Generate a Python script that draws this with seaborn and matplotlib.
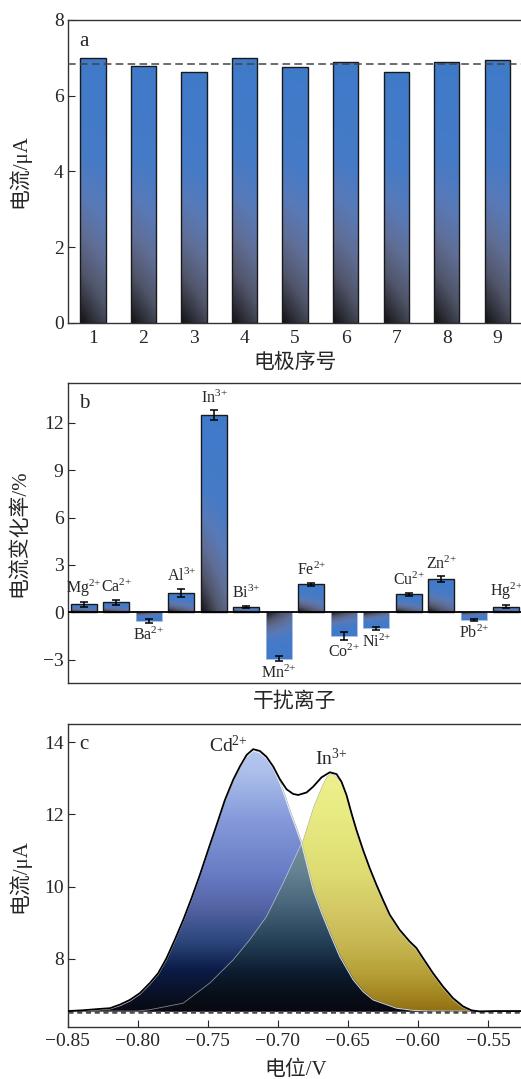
import numpy as np
import matplotlib
matplotlib.use("Agg")
import matplotlib.pyplot as plt
import seaborn as sns
from matplotlib.colors import LinearSegmentedColormap

# ---------------- data ----------------
electrodes = ["1", "2", "3", "4", "5", "6", "7", "8", "9"]
electrode_current = [7.00, 6.78, 6.63, 7.00, 6.75, 6.90, 6.63, 6.90, 6.95]
electrode_mean = 6.85

ions = ["Mg", "Ca", "Ba", "Al", "In", "Bi", "Mn", "Fe", "Co", "Ni", "Cu", "Zn", "Pb", "Hg"]
ion_charge = ["2", "2", "2", "3", "3", "3", "2", "2", "2", "2", "2", "2", "2", "2"]
change_rate = [0.50, 0.63, -0.55, 1.24, 12.50, 0.32, -2.95, 1.77, -1.49, -1.01, 1.14, 2.10, -0.48, 0.36]
change_err = [0.15, 0.15, 0.10, 0.25, 0.30, 0.08, 0.15, 0.10, 0.25, 0.10, 0.10, 0.18, 0.07, 0.08]

total_x = [-0.850, -0.840, -0.8270, -0.8198, -0.8127, -0.8056, -0.7984, -0.7913, -0.7854,
           -0.7794, -0.7735, -0.7675, -0.7616, -0.7556, -0.7497, -0.7437, -0.7378, -0.7319,
           -0.7271, -0.7223, -0.7176, -0.7128, -0.7081, -0.7033, -0.6986, -0.6938, -0.6891,
           -0.6855, -0.6795, -0.6748, -0.6688, -0.6629, -0.6581, -0.6546, -0.6510, -0.6474,
           -0.6439, -0.6392, -0.6344, -0.6296, -0.6249, -0.6201, -0.6130, -0.6059, -0.6011,
           -0.5964, -0.5892, -0.5821, -0.5750, -0.5678, -0.5618, -0.5559, -0.5450, -0.5250]
total_y = [6.55, 6.57, 6.61, 6.63, 6.73, 6.86, 7.05, 7.33, 7.60,
           8.02, 8.53, 9.08, 9.68, 10.33, 11.02, 11.71, 12.40, 12.96,
           13.33, 13.65, 13.81, 13.76, 13.60, 13.33, 12.98, 12.70, 12.57,
           12.54, 12.61, 12.77, 13.03, 13.17, 13.12, 12.91, 12.54, 12.03,
           11.57, 11.02, 10.51, 10.05, 9.63, 9.22, 8.80, 8.48, 8.30,
           8.02, 7.60, 7.23, 6.91, 6.68, 6.57, 6.54, 6.55, 6.55]

cd_x = [-0.850, -0.840, -0.8270, -0.8198, -0.8127, -0.8056, -0.7984, -0.7913, -0.7854,
        -0.7794, -0.7735, -0.7675, -0.7616, -0.7556, -0.7497, -0.7437, -0.7378, -0.7319,
        -0.7271, -0.7223, -0.7176, -0.7128, -0.7081, -0.7033, -0.6986, -0.6950, -0.6914,
        -0.6870, -0.6831, -0.6748, -0.6688, -0.6629, -0.6558, -0.6463, -0.6392, -0.6320,
        -0.6153, -0.6035, -0.5916, -0.5250]
cd_y = [6.55, 6.56, 6.59, 6.61, 6.70, 6.83, 7.02, 7.30, 7.57,
        7.99, 8.50, 9.05, 9.65, 10.30, 10.99, 11.68, 12.37, 12.92,
        13.29, 13.60, 13.76, 13.71, 13.55, 13.28, 12.88, 12.50, 12.08,
        11.62, 11.20, 9.91, 9.27, 8.71, 8.06, 7.42, 7.09, 6.86,
        6.63, 6.57, 6.55, 6.55]

in_x = [-0.850, -0.800, -0.7910, -0.7675, -0.7485, -0.7319, -0.7200, -0.7081, -0.6962,
        -0.6831, -0.6748, -0.6680, -0.6655, -0.6629, -0.6600, -0.6560, -0.6546, -0.6510,
        -0.6474, -0.6439, -0.6392, -0.6344, -0.6296, -0.6249, -0.6201, -0.6130, -0.6059,
        -0.6011, -0.5964, -0.5892, -0.5821, -0.5750, -0.5678, -0.5618, -0.5559, -0.5250]
in_y = [6.55, 6.55, 6.59, 6.77, 7.33, 7.97, 8.53, 9.17, 10.10,
        11.20, 12.22, 12.85, 13.04, 13.12, 13.08, 12.92, 12.86, 12.49,
        11.98, 11.52, 10.97, 10.46, 10.00, 9.58, 9.17, 8.75, 8.43,
        8.25, 7.97, 7.55, 7.18, 6.86, 6.64, 6.56, 6.54, 6.55]
baseline_current = 6.52

# ---------------- style ----------------
sns.set_style("ticks")
plt.rcParams["font.family"] = ["Liberation Serif", "Noto Sans CJK SC"]
plt.rcParams["mathtext.fontset"] = "custom"
plt.rcParams["mathtext.rm"] = "Liberation Serif"
plt.rcParams["mathtext.it"] = "Liberation Serif:italic"
plt.rcParams["mathtext.default"] = "rm"
plt.rcParams["axes.linewidth"] = 1.0
plt.rcParams["axes.edgecolor"] = "#333333"

W, H = 521, 1079
fig = plt.figure(figsize=(W / 100, H / 100), dpi=100)

def axes_px(left, top, right, bottom):
    return fig.add_axes([left / W, 1 - bottom / H, (right - left) / W, (bottom - top) / H])

ax_a = axes_px(67.7, 20.0, 522.5, 322.7)
ax_b = axes_px(67.7, 383.3, 522.5, 683.3)
ax_c = axes_px(67.7, 724.3, 523.0, 1027.3)

bar_cmap = LinearSegmentedColormap.from_list(
    "barg",
    [(0.0, (18/255, 18/255, 22/255)), (0.08, (45/255, 46/255, 55/255)),
     (0.2, (80/255, 85/255, 105/255)), (0.35, (96/255, 110/255, 150/255)),
     (0.5, (88/255, 122/255, 185/255)), (0.65, (70/255, 122/255, 198/255)),
     (1.0, (63/255, 123/255, 202/255))])

def gradient_fill(ax, patch, hfac=0.25):
    x0, y0 = patch.get_xy()
    w, h = patch.get_width(), patch.get_height()
    xa, xb = x0, x0 + w
    ya, yb = min(y0, y0 + h), max(y0, y0 + h)
    nx, ny = 40, 200
    u = np.linspace(0, 1, nx)[None, :]
    v = np.linspace(0, 1, ny)[:, None]
    if h < 0:
        v = v[::-1]  # zero line at top for negative bars
    t = np.clip(v + hfac * u * (1 - v), 0, 1)
    im = ax.imshow(t, cmap=bar_cmap, vmin=0, vmax=1, extent=[xa, xb, ya, yb],
                   origin="lower", aspect="auto", interpolation="bilinear",
                   zorder=patch.get_zorder() - 0.01)
    im.set_clip_path(patch)
    patch.set_facecolor("none")

def ion_label(name, charge):
    return name + "$^{" + charge + "{+}}$"

tick_fs = 14
lab_fs = 15

# ---------------- panel a ----------------
sns.barplot(x=electrodes, y=electrode_current, ax=ax_a, width=0.5, color="#407CC8",
            edgecolor="#1a1a1a", linewidth=1.0, errorbar=None)
for p in list(ax_a.patches):
    gradient_fill(ax_a, p, hfac=0.15)
ax_a.axhline(electrode_mean, color="#444444", lw=1.1, dashes=(5, 2.8), zorder=5)
ax_a.set_xlim(-0.5, 8.5)
ax_a.set_ylim(0, 8)
ax_a.set_yticks([0, 2, 4, 6, 8])
ax_a.tick_params(axis="both", direction="in", labelsize=tick_fs, top=False, right=False)
ax_a.tick_params(axis="x", length=4.5, pad=5)
ax_a.tick_params(axis="y", length=5, pad=3)
ax_a.set_xlabel("电极序号", fontsize=lab_fs)
ax_a.set_ylabel("电流/μA", fontsize=lab_fs)
ax_a.xaxis.set_label_coords(0.5, -0.1)
ax_a.yaxis.set_label_coords(-0.083, 0.5)
ax_a.text(0.025, 0.96, "a", transform=ax_a.transAxes, fontsize=15, va="top", ha="left")

# ---------------- panel b ----------------
sns.barplot(x=ions, y=change_rate, ax=ax_b, width=0.8, color="#407CC8",
            edgecolor="#1a1a1a", linewidth=1.0, errorbar=None)
for p, val in zip(list(ax_b.patches), change_rate):
    if val < 0:
        p.set_edgecolor("#9DB8E0")
        p.set_linewidth(0.6)
    gradient_fill(ax_b, p, hfac=0.3)
ax_b.errorbar(x=np.arange(len(ions)), y=change_rate, yerr=change_err, fmt="none",
              ecolor="black", elinewidth=1.1, capsize=3, capthick=1.1, zorder=6)
ax_b.axhline(0, color="black", lw=1.3, zorder=4)
for i, (ion, ch, val, err) in enumerate(zip(ions, ion_charge, change_rate, change_err)):
    label = ion_label(ion, ch)
    if val >= 0:
        ax_b.text(i, val + err + 0.22, label, ha="center", va="bottom", fontsize=11.5)
    else:
        ax_b.text(i, val - err - 0.25, label, ha="center", va="top", fontsize=11.5)
ax_b.set_xlim(-0.5, 13.5)
ax_b.set_ylim(-4.5, 14.5)
ax_b.set_yticks([-3, 0, 3, 6, 9, 12])
ax_b.set_xticks([])
ax_b.tick_params(axis="y", direction="in", labelsize=tick_fs, length=5, pad=3, right=False)
ax_b.set_xlabel("干扰离子", fontsize=lab_fs)
ax_b.set_ylabel("电流变化率/%", fontsize=lab_fs)
ax_b.xaxis.set_label_coords(0.5, -0.03)
ax_b.yaxis.set_label_coords(-0.083, 0.5)
ax_b.text(0.025, 0.965, "b", transform=ax_b.transAxes, fontsize=15, va="top", ha="left")

# ---------------- panel c ----------------
xl = (-0.85, -0.525)
yl = (6.1, 14.5)
xg = np.linspace(xl[0], xl[1], 1600)
yg = np.linspace(yl[0], yl[1], 1400)
cd_top = np.interp(xg, cd_x, cd_y)[None, :]
in_top = np.interp(xg, in_x, in_y)[None, :]
Y = yg[:, None]
in_cd = (Y <= cd_top) & (Y >= baseline_current)
in_in = (Y <= in_top) & (Y >= baseline_current)

def row_colors(stops):
    sy = np.array([s[0] for s in stops])
    sc = np.array([s[1] for s in stops]) / 255.0
    return np.stack([np.interp(yg, sy, sc[:, k]) for k in range(3)], axis=1)[:, None, :]

blue_c = row_colors([(6.55, (8, 10, 18)), (7.2, (10, 20, 48)), (7.7, (12, 28, 72)),
                     (8.5, (45, 72, 125)), (9.45, (85, 100, 165)), (10.4, (105, 125, 198)),
                     (11.8, (132, 152, 217)), (13.2, (172, 192, 236)), (14.0, (182, 202, 242))])
yel_c = row_colors([(6.55, (145, 112, 18)), (6.9, (160, 130, 30)), (7.6, (182, 160, 55)),
                    (8.5, (200, 185, 85)), (9.45, (212, 202, 102)), (10.4, (222, 220, 115)),
                    (12.0, (232, 235, 130)), (13.2, (238, 240, 142))])
ovl_c = row_colors([(6.55, (8, 10, 18)), (6.9, (8, 13, 22)), (7.6, (12, 28, 48)),
                    (8.5, (38, 65, 88)), (9.45, (72, 100, 122)), (10.4, (100, 130, 145)),
                    (11.3, (118, 145, 152)), (12.5, (130, 155, 160))])

img = np.zeros((len(yg), len(xg), 4))
only_cd = in_cd & ~in_in
only_in = in_in & ~in_cd
both = in_cd & in_in
rgb = np.zeros((len(yg), len(xg), 3))
rgb = np.where(only_cd[..., None], blue_c, rgb)
rgb = np.where(only_in[..., None], yel_c, rgb)
rgb = np.where(both[..., None], ovl_c, rgb)
img[..., :3] = rgb
img[..., 3] = (in_cd | in_in).astype(float)
ax_c.imshow(img, extent=[xl[0], xl[1], yl[0], yl[1]], origin="lower", aspect="auto",
            interpolation="antialiased", zorder=1)

ax_c.plot(cd_x, cd_y, color="white", lw=0.8, alpha=0.8, zorder=2)
ax_c.plot(in_x, in_y, color="white", lw=0.6, alpha=0.5, zorder=2)
ax_c.axhline(baseline_current, color="#4a4a4a", lw=1.8, dashes=(2, 1.5), zorder=3)
sns.lineplot(x=total_x, y=total_y, ax=ax_c, color="black", lw=1.3, sort=False,
             estimator=None, zorder=4)
ax_c.text(-0.735, 13.62, ion_label("Cd", "2"), ha="center", va="bottom", fontsize=14)
ax_c.text(-0.662, 13.27, ion_label("In", "3"), ha="center", va="bottom", fontsize=14)
ax_c.set_xlim(*xl)
ax_c.set_ylim(*yl)
ax_c.set_xticks([-0.85, -0.80, -0.75, -0.70, -0.65, -0.60, -0.55])
ax_c.set_xticklabels(["−0.85", "−0.80", "−0.75", "−0.70", "−0.65", "−0.60", "−0.55"])
ax_c.set_yticks([8, 10, 12, 14])
ax_c.tick_params(axis="both", direction="in", labelsize=tick_fs, top=False, right=False)
ax_c.tick_params(axis="x", length=5, pad=4)
ax_c.tick_params(axis="y", length=5, pad=3)
ax_c.set_xlabel("电位/V", fontsize=lab_fs)
ax_c.set_ylabel("电流/μA", fontsize=lab_fs)
ax_c.xaxis.set_label_coords(0.5, -0.11)
ax_c.yaxis.set_label_coords(-0.083, 0.5)
ax_c.text(0.025, 0.965, "c", transform=ax_c.transAxes, fontsize=15, va="top", ha="left")

fig.savefig("out.png", dpi=100)
